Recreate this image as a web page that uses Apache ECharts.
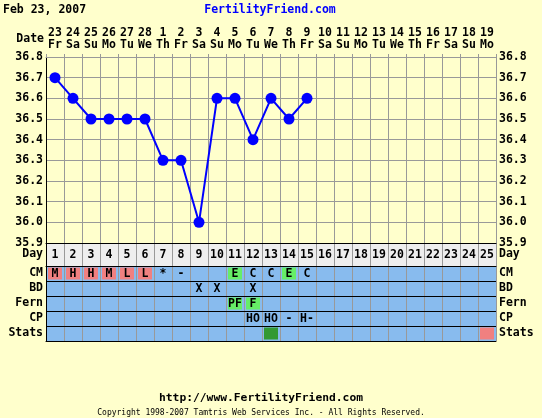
<!DOCTYPE html>
<html><head><meta charset="utf-8">
<script src="https://cdn.jsdelivr.net/npm/echarts@6/dist/echarts.min.js"></script>
<style>html,body{margin:0;padding:0;background:#FFFFCC;}#c{width:542px;height:418px;}</style>
</head><body><div id="c"></div>
<script>
// ---- data ----
const dateLabels = ['23','24','25','26','27','28','1','2','3','4','5','6','7','8','9','10','11','12','13','14','15','16','17','18','19'];
const weekdayLabels = ['Fr','Sa','Su','Mo','Tu','We','Th','Fr','Sa','Su','Mo','Tu','We','Th','Fr','Sa','Su','Mo','Tu','We','Th','Fr','Sa','Su','Mo'];
const cycleDays = ['1','2','3','4','5','6','7','8','9','10','11','12','13','14','15','16','17','18','19','20','21','22','23','24','25'];
const temperatures = [36.7,36.6,36.5,36.5,36.5,36.5,36.3,36.3,36.0,36.6,36.6,36.4,36.6,36.5,36.6];
const tempMin = 35.9, tempMax = 36.8, tempStep = 0.1;
const rowNames = ['CM','BD','Fern','CP','Stats'];
const cmCodes   = ['M','H','H','M','L','L','*','-','','','E','C','C','E','C','','','','','','','','','',''];
const cmFlags   = ['period','period','period','period','period','period','','','','','fertile','','','fertile','','','','','','','','','','',''];
const bdCodes   = ['','','','','','','','','X','X','','X','','','','','','','','','','','','',''];
const fernCodes = ['','','','','','','','','','','PF','F','','','','','','','','','','','','',''];
const fernFlags = ['','','','','','','','','','','fertile','fertile','','','','','','','','','','','','',''];
const cpCodes   = ['','','','','','','','','','','','HO','HO','-','H-','','','','','','','','','',''];
const statsFlags= ['','','','','','','','','','','','','ovulation','','','','','','','','','','','','expected'];

// ---- styles ----
const FF = '"DejaVu Sans Mono", monospace';
const FONT = 'bold 11.5px ' + FF;
const flagColors = { period:'#F08080', fertile:'#66EE66', ovulation:'#339933', expected:'#F08080' };
const GRID = '#999999';

const rowCodes = [cmCodes, bdCodes, fernCodes, cpCodes, null];
const rowFlags = [cmFlags, null, fernFlags, null, statsFlags];
const tableCells = [];
rowNames.forEach((r, ri) => {
  cycleDays.forEach((d, di) => {
    const t = rowCodes[ri] ? rowCodes[ri][di] : '';
    const f = rowFlags[ri] ? rowFlags[ri][di] : '';
    if (t || f) tableCells.push({ day: di, row: ri, text: t, flag: f });
  });
});

function cellItem(cell, api) {
  const c = api.coord([cell.day, cell.row]);
  const s = api.size([1, 1]);
  const children = [];
  if (cell.flag) children.push({ type:'rect', shape:{ x:c[0]-s[0]/2+2, y:c[1]-s[1]/2+1.5, width:s[0]-4, height:s[1]-3 }, style:{ fill: flagColors[cell.flag] } });
  if (cell.text) children.push({ type:'text', x:c[0], y:c[1]+0.5, style:{ text:cell.text, align:'center', verticalAlign:'middle', font:FONT, fill:'#000' } });
  return { type:'group', children };
}

const labelStyle = { color:'#000', fontFamily:FF, fontWeight:'bold', fontSize:11.5 };

const option = {
  animation:false,
  backgroundColor:'#FFFFCC',
  grid:[
    { left:46, top:57, width:450, height:186, show:true, backgroundColor:'#FFFFCC', borderWidth:0 },
    { left:46, top:243, width:450, height:23, show:true, backgroundColor:'#EEEEEE', borderWidth:0 },
    { left:46, top:266, width:450, height:75, show:true, backgroundColor:'#88BBEE', borderWidth:0 }
  ],
  xAxis:[
    { type:'category', gridIndex:0, position:'top', boundaryGap:true,
      data: dateLabels.map((d,i)=>d+'\n'+weekdayLabels[i]),
      axisLine:{ show:true, lineStyle:{ color:GRID } },
      axisTick:{ show:true, length:3, interval:0, lineStyle:{ color:GRID } },
      axisLabel:{ ...labelStyle, interval:0, lineHeight:12, margin:6 },
      splitLine:{ show:true, interval:0, lineStyle:{ color:GRID } } },
    { type:'category', gridIndex:1, position:'top', data:cycleDays, z:5,
      axisLine:{ show:true, lineStyle:{ color:'#000' } }, axisTick:{ show:false }, axisLabel:{ show:false },
      splitLine:{ show:true, interval:0, lineStyle:{ color:GRID } } },
    { type:'category', gridIndex:2, position:'top', data:cycleDays, z:5,
      axisLine:{ show:true, lineStyle:{ color:'#000' } }, axisTick:{ show:false }, axisLabel:{ show:false },
      splitLine:{ show:true, interval:0, lineStyle:{ color:GRID } } },
    { type:'category', gridIndex:2, position:'bottom', data:cycleDays, z:6,
      axisLine:{ show:true, lineStyle:{ color:'#000' } }, axisTick:{ show:false }, axisLabel:{ show:false },
      splitLine:{ show:false } }
  ],
  yAxis:[
    { type:'value', gridIndex:0, position:'left', min:tempMin, max:tempMax, interval:tempStep,
      axisLine:{ show:true, lineStyle:{ color:'#000' } }, axisTick:{ show:false },
      axisLabel:{ ...labelStyle, margin:3, formatter:v=>v.toFixed(1) },
      splitLine:{ show:true, lineStyle:{ color:GRID } } },
    { type:'value', gridIndex:0, position:'right', min:tempMin, max:tempMax, interval:tempStep,
      axisLine:{ show:false }, axisTick:{ show:false },
      axisLabel:{ ...labelStyle, margin:3, formatter:v=>v.toFixed(1) },
      splitLine:{ show:false } },
    { type:'category', gridIndex:1, position:'left', data:['Day'], z:6,
      axisLine:{ show:true, lineStyle:{ color:'#000' } }, axisTick:{ show:false },
      axisLabel:{ ...labelStyle, margin:3 }, splitLine:{ show:false } },
    { type:'category', gridIndex:1, position:'right', data:['Day'],
      axisLine:{ show:false }, axisTick:{ show:false },
      axisLabel:{ ...labelStyle, margin:3 }, splitLine:{ show:false } },
    { type:'category', gridIndex:2, position:'left', data:rowNames, inverse:true, z:6,
      axisLine:{ show:true, lineStyle:{ color:'#000' } }, axisTick:{ show:false },
      axisLabel:{ ...labelStyle, margin:3, interval:0 },
      splitLine:{ show:true, interval:0, lineStyle:{ color:'#000' } } },
    { type:'category', gridIndex:2, position:'right', data:rowNames, inverse:true,
      axisLine:{ show:false }, axisTick:{ show:false },
      axisLabel:{ ...labelStyle, margin:3, interval:0 }, splitLine:{ show:false } }
  ],
  series:[
    { type:'line', xAxisIndex:0, yAxisIndex:0, data:temperatures,
      symbol:'circle', symbolSize:11, itemStyle:{ color:'#0000FF' },
      lineStyle:{ color:'#0000FF', width:2 }, z:10 },
    { type:'custom', xAxisIndex:1, yAxisIndex:2, coordinateSystem:'cartesian2d',
      data: cycleDays.map((d,i)=>[i,0]),
      renderItem:(p, api)=>cellItem({ day:p.dataIndex, row:0, text:cycleDays[p.dataIndex], flag:'' }, api) },
    { type:'custom', xAxisIndex:2, yAxisIndex:4, coordinateSystem:'cartesian2d',
      data: tableCells.map(c=>[c.day, c.row]),
      renderItem:(p, api)=>cellItem(tableCells[p.dataIndex], api) }
  ],
  graphic:[
    { type:'text', x:3, y:10, style:{ text:'Feb 23, 2007', font:FONT, fill:'#000', align:'left', verticalAlign:'middle' } },
    { type:'text', x:270, y:10, style:{ text:'FertilityFriend.com', font:FONT, fill:'#0000FF', align:'center', verticalAlign:'middle' } },
    { type:'text', x:44, y:39, style:{ text:'Date', font:FONT, fill:'#000', align:'right', verticalAlign:'middle' } },
    { type:'text', x:261, y:398, style:{ text:'http://www.FertilityFriend.com', font:'bold 11.3px ' + FF, fill:'#000', align:'center', verticalAlign:'middle' } },
    { type:'text', x:261, y:413, style:{ text:'Copyright 1998-2007 Tamtris Web Services Inc. - All Rights Reserved.', font:'8px ' + FF, fill:'#000', align:'center', verticalAlign:'middle' } }
  ]
};
const chart = echarts.init(document.getElementById('c'), null, { renderer:'canvas' });
chart.setOption(option);
</script></body></html>
